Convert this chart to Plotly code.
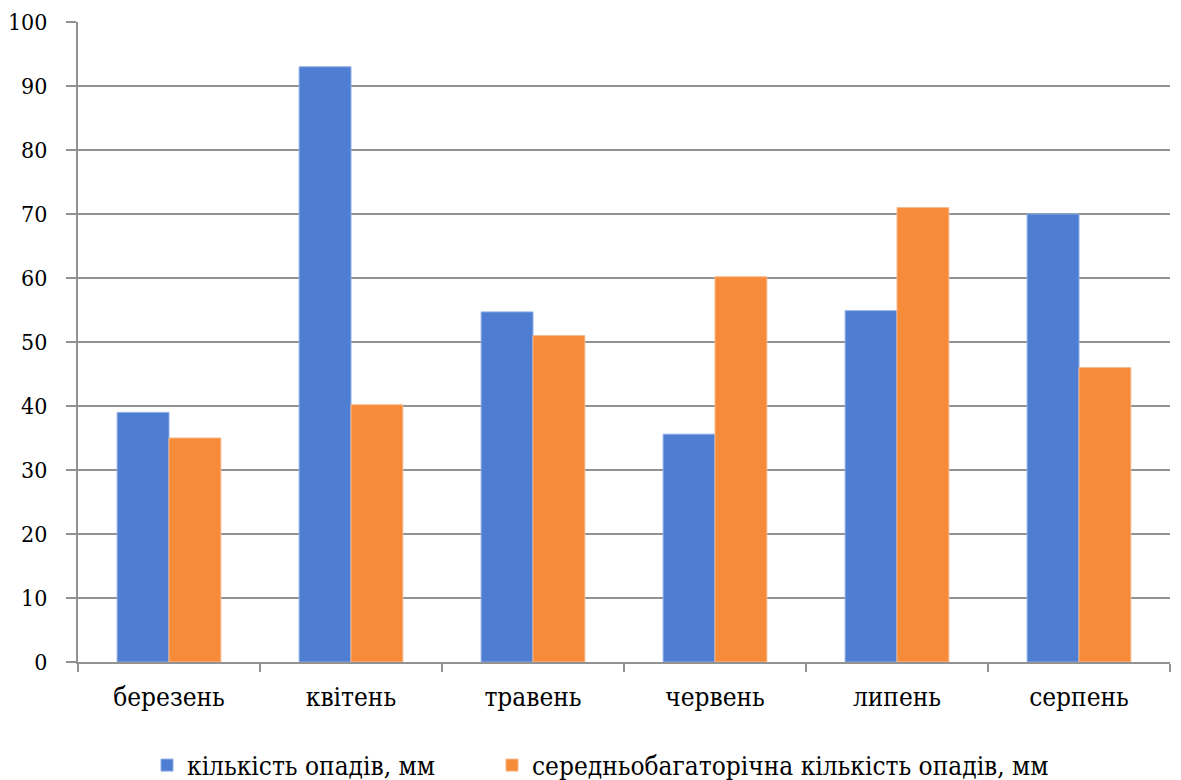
import plotly.graph_objects as go

months = ["березень", "квітень", "травень", "червень", "липень", "серпень"]
precip = [39.0, 93.0, 54.7, 35.6, 54.9, 70.0]
precip_norm = [35.0, 40.2, 51.0, 60.2, 71.0, 46.0]
y_ticks = list(range(0, 101, 10))

GRID = "#929292"
FONT = "DejaVu Serif Condensed"

fig = go.Figure()
fig.add_trace(go.Bar(
    x=months, y=precip, name="кількість опадів, мм",
    marker=dict(color="#4E7DD1", line=dict(color="#8FAEE6", width=1)),
    legend="legend",
))
fig.add_trace(go.Bar(
    x=months, y=precip_norm, name="середньобагаторічна кількість опадів, мм",
    marker=dict(color="#F68B3A", line=dict(color="#F9B98A", width=1)),
    legend="legend2",
))

legend_common = dict(
    orientation="h", xref="container", yref="container",
    xanchor="left", yanchor="middle", y=0.019,
    font=dict(size=26, family=FONT, color="black"),
    itemclick=False, itemdoubleclick=False, bgcolor="rgba(0,0,0,0)",
)

fig.update_layout(
    width=1181, height=780,
    margin=dict(l=78, r=11, t=22, b=118),
    paper_bgcolor="white", plot_bgcolor="white",
    barmode="group", bargap=0.43, bargroupgap=0,
    font=dict(family=FONT, color="black", size=24),
    legend=dict(x=147 / 1181, **legend_common),
    legend2=dict(x=492 / 1181, **legend_common),
    showlegend=True,
)
fig.update_xaxes(
    showline=True, linecolor=GRID, linewidth=2,
    ticks="outside", tickson="boundaries", ticklen=8, tickcolor=GRID, tickwidth=2,
    showgrid=False, tickfont=dict(size=26, family=FONT, color="black"),
    ticklabelstandoff=11, automargin=False,
)
fig.update_yaxes(
    range=[0, 100], tickvals=y_ticks,
    showline=True, linecolor=GRID, linewidth=2,
    ticks="outside", ticklen=10, tickcolor=GRID, tickwidth=2,
    showgrid=True, gridcolor=GRID, gridwidth=2, zeroline=False,
    tickfont=dict(size=23, family=FONT, color="black"), ticklabelstandoff=14,
    automargin=False,
)

fig.write_html("out.html")
